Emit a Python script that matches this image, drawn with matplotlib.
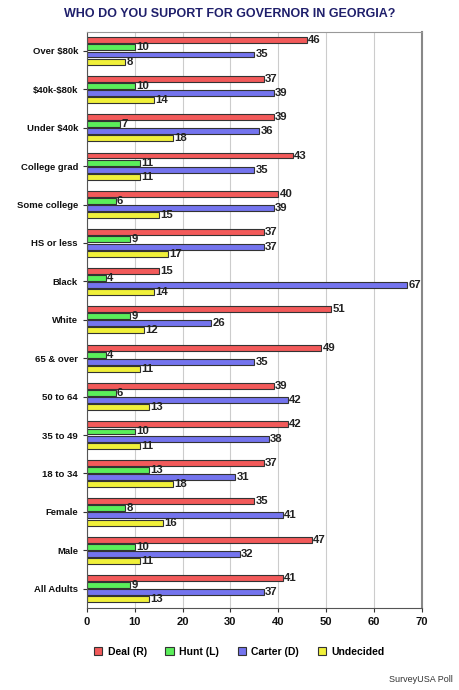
import matplotlib.pyplot as plt
import numpy as np

plt.rcParams["font.family"] = ["Liberation Sans", "DejaVu Sans"]

groups = ["Over \\$80k", "\\$40k-\\$80k", "Under \\$40k", "College grad", "Some college",
          "HS or less", "Black", "White", "65 & over", "50 to 64", "35 to 49",
          "18 to 34", "Female", "Male", "All Adults"]
deal = [46, 37, 39, 43, 40, 37, 15, 51, 49, 39, 42, 37, 35, 47, 41]
hunt = [10, 10, 7, 11, 6, 9, 4, 9, 4, 6, 10, 13, 8, 10, 9]
carter = [35, 39, 36, 35, 39, 37, 67, 26, 35, 42, 38, 31, 41, 32, 37]
undecided = [8, 14, 18, 11, 15, 17, 14, 12, 11, 13, 11, 18, 16, 11, 13]

series = [("Deal (R)", deal, "#f25a5a"),
          ("Hunt (L)", hunt, "#5aee5a"),
          ("Carter (D)", carter, "#7474ee"),
          ("Undecided", undecided, "#f0f03a")]

fig = plt.figure(figsize=(4.6, 6.9), dpi=100)
ax = fig.add_axes([0.189, 0.119, 0.728, 0.835])

y = np.arange(len(groups))
h = 0.155
step = 0.185
for i, (name, vals, col) in enumerate(series):
  pos = y + (i - 1.5) * step
  ax.barh(pos, vals, height=h, color=col, edgecolor="#333333", linewidth=0.8, label=name)
  for p, v in zip(pos, vals):
    ax.text(v + 0.25, p, str(v), va="center", ha="left", fontsize=8.2, fontweight="bold", color="#222222")

ax.set_ylim(len(groups) - 0.5, -0.5)
ax.set_xlim(0, 70)
ax.set_xticks(np.arange(0, 71, 10))
ax.set_yticks(y)
ax.set_yticklabels(groups, fontsize=6.8, fontweight="bold")
for lbl in ax.get_xticklabels():
  lbl.set_fontweight("bold")
  lbl.set_fontsize(8)
ax.xaxis.grid(True, color="#cccccc", linewidth=0.8)
ax.set_axisbelow(True)
ax.spines["top"].set_color("#999999")
ax.spines["right"].set_color("#888888")
ax.spines["right"].set_linewidth(1.5)
ax.spines["left"].set_color("#555555")
ax.spines["bottom"].set_color("#555555")
ax.tick_params(length=3, colors="#333333", labelcolor="#111111")

fig.text(0.5, 0.98, "WHO DO YOU SUPORT FOR GOVERNOR IN GEORGIA?", ha="center", va="center",
         fontsize=9, fontweight="bold", color="#1f1f6b")
fig.legend(loc="center", bbox_to_anchor=(0.52, 0.055), ncol=4, frameon=False,
           handlelength=0.8, handleheight=0.8, columnspacing=1.8, handletextpad=0.5,
           prop={"weight": "bold", "size": 7.5})
fig.text(0.985, 0.008, "SurveyUSA Poll", ha="right", va="bottom", fontsize=6.5, color="#333333")

plt.savefig("out.png", dpi=100)
